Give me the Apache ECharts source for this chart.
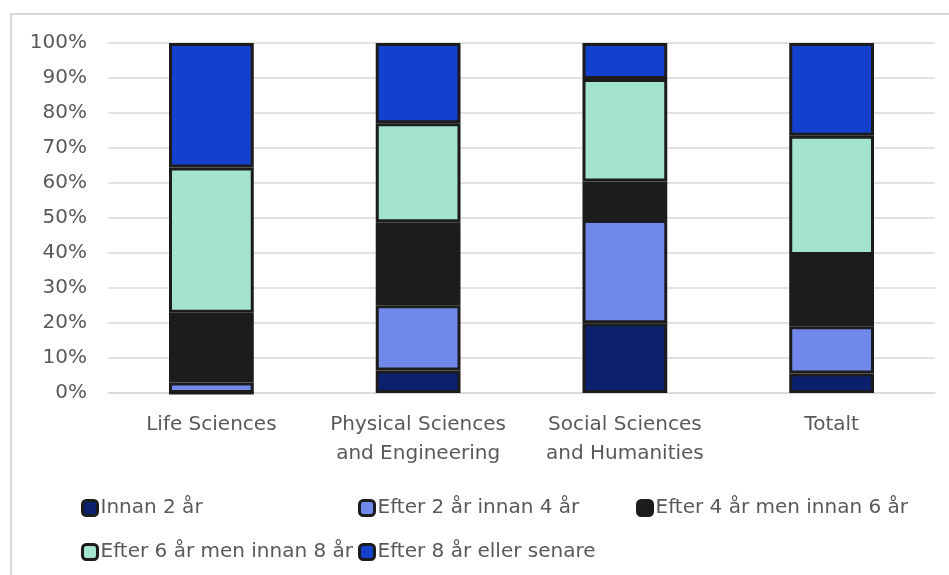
<!DOCTYPE html>
<html>
<head>
<meta charset="utf-8">
<script src="https://cdn.jsdelivr.net/npm/echarts@6/dist/echarts.min.js"></script>
<style>
  html, body { margin: 0; padding: 0; background: #ffffff; }
  #chart { width: 949px; height: 575px; }
</style>
</head>
<body>
<div id="chart"></div>
<script>
// Categories along the x axis
const categories = ['Life Sciences', 'Physical Sciences\nand Engineering', 'Social Sciences\nand Humanities', 'Totalt'];

// Share of each group (percent), one array per time bracket
const innan2 = [0, 6.4, 19.9, 5.6];
const efter2innan4 = [3.0, 18.7, 29.5, 13.5];
const efter4innan6 = [19.9, 23.7, 11.0, 20.3];
const efter6innan8 = [41.5, 28.3, 29.3, 34.1];
const efter8 = [35.6, 22.9, 10.3, 26.5];

const seriesNames = [
  'Innan 2 år',
  'Efter 2 år innan 4 år',
  'Efter 4 år men innan 6 år',
  'Efter 6 år men innan 8 år',
  'Efter 8 år eller senare'
];
const seriesData = [innan2, efter2innan4, efter4innan6, efter6innan8, efter8];
const colors = ['#0B2170', '#7089EA', '#1C1C1C', '#A4E4CE', '#1340CD'];

const FONT = '"DejaVu Sans", sans-serif';
const TEXT = '#595959';
const SIZE = 20;

const chart = echarts.init(document.getElementById('chart'), null, { renderer: 'canvas' });

// Legend entries laid out in two rows of aligned columns
const legendPos = [
  { left: 81, top: 498 },
  { left: 358, top: 498 },
  { left: 636, top: 498 },
  { left: 81, top: 542 },
  { left: 358, top: 542 }
];
const legends = seriesNames.map((n, i) => ({
  data: [n],
  left: legendPos[i].left,
  top: legendPos[i].top,
  padding: 0,
  itemWidth: 15,
  itemHeight: 15,
  icon: 'roundRect',
  itemStyle: { borderColor: '#1C1C1C', borderWidth: 3 },
  textStyle: { fontFamily: FONT, fontSize: SIZE, color: TEXT, padding: [0, 0, 0, -2] },
  selectedMode: false
}));

chart.setOption({
  animation: false,
  color: colors,
  graphic: [{
    type: 'polyline',
    shape: { points: [[11, 575], [11, 14], [949, 14]] },
    style: { fill: 'none', stroke: '#D9D9D9', lineWidth: 2 },
    silent: true
  }],
  legend: legends,
  grid: { left: 108, right: 14, top: 43, bottom: 182, containLabel: false },
  xAxis: {
    type: 'category',
    data: categories,
    axisLine: { show: true, lineStyle: { color: '#D9D9D9', width: 1.5 } },
    axisTick: { show: false },
    axisLabel: { interval: 0, fontFamily: FONT, fontSize: SIZE, color: TEXT, margin: 17, lineHeight: 29 }
  },
  yAxis: {
    type: 'value',
    min: 0,
    max: 100,
    interval: 10,
    axisLine: { show: false },
    axisTick: { show: false },
    splitLine: { lineStyle: { color: '#D9D9D9', width: 1.5 } },
    axisLabel: { fontFamily: FONT, fontSize: SIZE, color: TEXT, margin: 21, formatter: v => v + '%' }
  },
  series: seriesNames.map((n, i) => ({
    name: n,
    type: 'bar',
    stack: 'total',
    data: seriesData[i],
    barWidth: '41%',
    itemStyle: { color: colors[i], borderColor: '#1C1C1C', borderWidth: 3 }
  }))
});
</script>
</body>
</html>
